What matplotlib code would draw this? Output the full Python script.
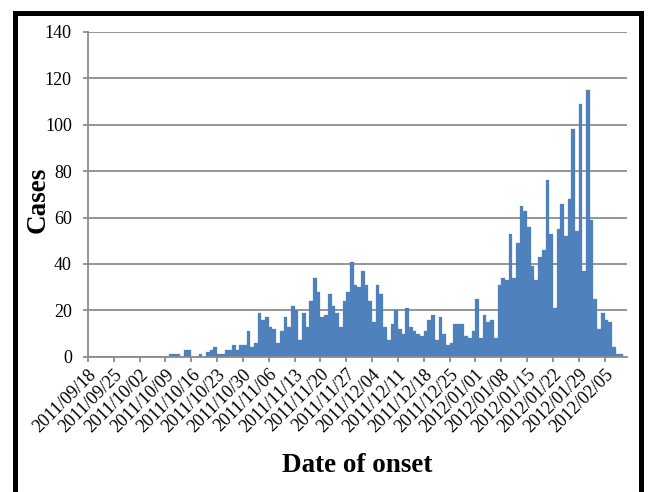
import numpy as np
import pandas as pd
import matplotlib
matplotlib.use('Agg')
import matplotlib.pyplot as plt
from matplotlib.patches import Rectangle

# daily case counts by date of onset, 2011/09/18 - 2012/02/10
dates = pd.date_range('2011-09-18', '2012-02-10', freq='D')
cases = ([0] * 22 +
         [1, 1, 1, 0, 3, 3, 0, 0, 1, 0, 2, 3, 4, 1, 1, 3, 3, 5, 3, 5, 5] +
         [11, 4, 6, 19, 16, 17, 13, 12, 6, 11, 17, 13, 22, 20, 7, 19, 13, 24,
          34, 28, 17, 18, 27, 22, 19, 13, 24, 28, 41, 31, 30, 37, 31, 24, 15,
          31, 27] +
         [13, 7, 14, 20, 12, 10, 21, 13, 11, 10, 9, 11, 16, 18, 7, 17, 10, 5,
          6, 14, 14, 14, 9, 8, 11, 25, 8, 18, 15, 16, 8, 31, 34, 33, 53] +
         [34, 49, 65, 63, 56, 39, 33, 43, 46, 76, 53, 21, 55, 66, 52, 68, 98,
          54, 109, 37, 115, 59, 25, 12, 19, 16, 15, 4, 1, 1] +
         [0])

tick_dates = pd.date_range('2011-09-18', '2012-02-05', freq='7D')
tick_labels = [d.strftime('%Y/%m/%d') for d in tick_dates]
y_ticks = list(range(0, 141, 20))

plt.rcParams['font.family'] = ['Liberation Serif', 'DejaVu Serif']

W, H = 657, 492
fig = plt.figure(figsize=(W / 100, H / 100), dpi=100)
ax = fig.add_axes([88 / W, 1 - 356.7 / H, (626.7 - 88) / W, (356.7 - 31.9) / H])

grey = '#8c8c8c'
x = np.arange(len(dates))
ax.bar(x, cases, width=1.0, color='#4F81BD', edgecolor='#4F81BD',
       linewidth=0.2, zorder=3)

ax.set_xlim(-0.5, len(dates) - 0.5)
ax.set_ylim(0, 140)
ax.set_yticks(y_ticks)
ax.yaxis.grid(True, color=grey, linewidth=1.3, zorder=0)

tick_pos = [dates.get_loc(d) - 0.5 for d in tick_dates]
ax.set_xticks(tick_pos)
ax.set_xticklabels(tick_labels, rotation=45, ha='right', va='top',
                   rotation_mode='anchor')

for side in ['top', 'right']:
    ax.spines[side].set_visible(False)
for side in ['left', 'bottom']:
    ax.spines[side].set_color(grey)
    ax.spines[side].set_linewidth(1.3)
ax.spines['bottom'].set_zorder(4)

ax.tick_params(axis='y', colors=grey, length=3.6, width=1.3, pad=8,
               labelsize=13, labelcolor='black')
ax.tick_params(axis='x', colors=grey, length=3.6, width=1.3, pad=3,
               labelsize=13, labelcolor='black')

fig.text(38 / W, 1 - 200 / H, 'Cases', rotation=90, fontsize=19.5,
         fontweight='bold', ha='center', va='center')
fig.text(357 / W, 1 - 465 / H, 'Date of onset', fontsize=19.5,
         fontweight='bold', ha='center', va='center')

# thick black frame around the figure (bottom edge falls outside the image)
fig.add_artist(Rectangle((15 / W, -0.1), (641 - 15) / W, 1.1 - 12.5 / H,
                         transform=fig.transFigure, fill=False,
                         edgecolor='black', linewidth=3.6))

fig.savefig('out.png', dpi=100)
